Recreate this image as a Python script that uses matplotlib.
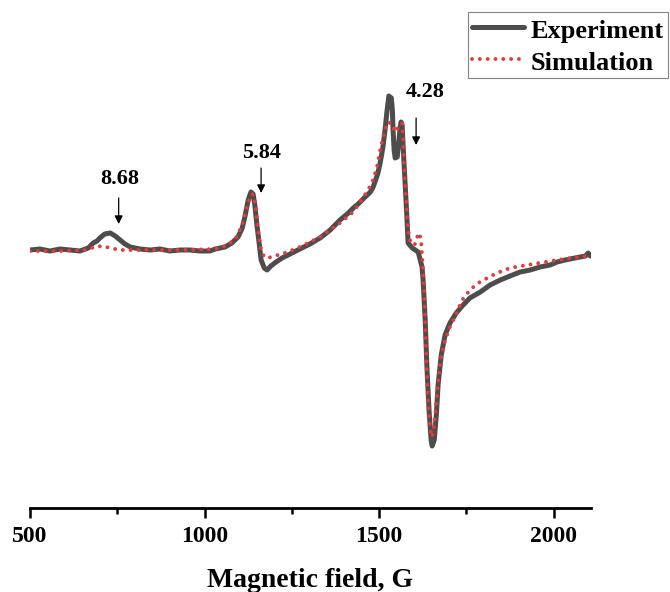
import matplotlib
matplotlib.use("Agg")
import matplotlib.pyplot as plt
from matplotlib.ticker import MultipleLocator

plt.rcParams['font.family'] = ['Liberation Serif', 'DejaVu Serif']
plt.rcParams['font.weight'] = 'bold'

# ----------------- Data (field in G, intensity in arb. units) ----------------- #
exp_field = [500, 528, 557, 586, 615, 643, 667, 681, 692, 700, 714, 730, 744, 758, 772,
             787, 815, 844, 872, 901, 930, 958, 987, 1015, 1031, 1059, 1078, 1096, 1108,
             1116, 1125, 1133, 1139, 1144, 1150, 1157, 1162, 1171, 1179, 1190, 1205, 1222,
             1245, 1273, 1302, 1331, 1360, 1388, 1412, 1426, 1440, 1457, 1475, 1483, 1496,
             1503, 1511, 1517, 1523, 1528, 1535, 1538, 1540, 1543, 1546, 1552, 1557, 1560,
             1563, 1566, 1569, 1574, 1580, 1583, 1595, 1612, 1623, 1626, 1632, 1637, 1643,
             1649, 1652, 1658, 1664, 1669, 1678, 1689, 1703, 1721, 1738, 1760, 1790, 1818,
             1847, 1875, 1904, 1933, 1961, 1990, 2010, 2033, 2061, 2091, 2099, 2105]
exp_int = [0, 1, -1, 1, 0, -1, 2, 7, 9, 12, 16, 17, 14, 10, 6,
           3, 1, 0, 1, -1, 0, 0, -1, -1, 1, 3, 7, 13, 22,
           34, 50, 58, 56, 45, 25, 5, -10, -18, -20, -16, -12, -8,
           -4, 1, 6, 12, 20, 30, 37, 42, 46, 52, 58, 63, 76,
           87, 103, 120, 140, 154, 152, 140, 120, 100, 92, 93, 110, 122,
           128, 125, 103, 70, 30, 7, 2, -2, -17, -30, -70, -117, -160,
           -190, -196, -190, -165, -135, -105, -85, -73, -63, -56, -48, -42, -35,
           -30, -26, -22, -20, -17, -15, -12, -10, -8, -6, -3, -6]

sim_field = [500, 586, 658, 686, 706, 730, 758, 815, 930, 1031, 1067, 1090, 1108, 1119,
             1130, 1136, 1142, 1147, 1153, 1162, 1171, 1182, 1199, 1222, 1245, 1273, 1331,
             1388, 1426, 1454, 1480, 1494, 1503, 1511, 1517, 1523, 1528, 1535, 1538, 1546,
             1554, 1566, 1569, 1571, 1574, 1577, 1580, 1583, 1588, 1595, 1603, 1609, 1615,
             1620, 1623, 1629, 1634, 1640, 1646, 1652, 1658, 1667, 1675, 1689, 1703, 1721,
             1738, 1760, 1784, 1810, 1838, 1875, 1924, 1976, 2028, 2075, 2096]
sim_int = [-1, -1, 0, 3, 4, 2, 0, 0, 0, 1, 5, 12, 25, 40,
           53, 56, 54, 40, 20, 0, -7, -8, -6, -4, -1, 3, 13,
           27, 38, 52, 67, 83, 100, 112, 120, 127, 128, 125, 125, 118,
           122, 127, 110, 90, 70, 53, 37, 20, 10, 5, 6, 13, 17,
           10, -5, -40, -95, -150, -178, -187, -175, -140, -112, -90, -77, -64,
           -50, -40, -33, -28, -23, -18, -15, -12, -9, -7, -6]

g_labels = ["8.68", "5.84", "4.28"]
g_arrow_field = [754, 1162, 1606]
g_arrow_tail = [52, 82, 132]
g_arrow_head = [26, 57, 105]
g_text_field = [758, 1162, 1632]
g_text_int = [71, 97, 158]

# ----------------- Plot ----------------- #
fig = plt.figure(figsize=(6.7, 5.92), dpi=100)
ax = fig.add_axes([30 / 670, 84 / 592, 561 / 670, 508 / 592])

ax.plot(exp_field, exp_int, color='#4d4d4d', lw=3.6, solid_capstyle='round',
        solid_joinstyle='round', label='Experiment')
ax.plot(sim_field, sim_int, color='#e8393a', lw=2.8, linestyle=(0, (0.01, 2.0)),
        dash_capstyle='round', label='Simulation')

for lab, gx, t0, t1, tx, ty in zip(g_labels, g_arrow_field, g_arrow_tail, g_arrow_head,
                                   g_text_field, g_text_int):
    ax.annotate('', xy=(gx, t1), xytext=(gx, t0),
                arrowprops=dict(arrowstyle='-|>', color='black', lw=0.9,
                                mutation_scale=12, shrinkA=0, shrinkB=0))
    ax.text(tx, ty, lab, ha='center', va='center', fontsize=16, fontweight='bold')

ax.set_xlim(500, 2107)
ax.set_ylim(-258, 250)
ax.set_yticks([])
for s in ['left', 'right', 'top']:
    ax.spines[s].set_visible(False)
ax.spines['bottom'].set_linewidth(2)
ax.xaxis.set_major_locator(MultipleLocator(500))
ax.xaxis.set_minor_locator(MultipleLocator(250))
ax.tick_params(axis='x', which='major', length=7, width=1.8, labelsize=17, pad=6)
ax.tick_params(axis='x', which='minor', length=4, width=1.8)
ax.set_xlabel('Magnetic field, G', fontsize=20, fontweight='bold', labelpad=15)

leg = fig.legend(loc='upper right', bbox_to_anchor=(668 / 670, 1 - 12 / 592),
                 fontsize=19, frameon=True, fancybox=False, handlelength=2.0,
                 handleheight=1.1, handletextpad=0.25, borderpad=0.15,
                 labelspacing=0.2, borderaxespad=0)
leg.get_frame().set_edgecolor('#666666')
leg.get_frame().set_linewidth(0.8)

fig.savefig('out.png', dpi=100)
